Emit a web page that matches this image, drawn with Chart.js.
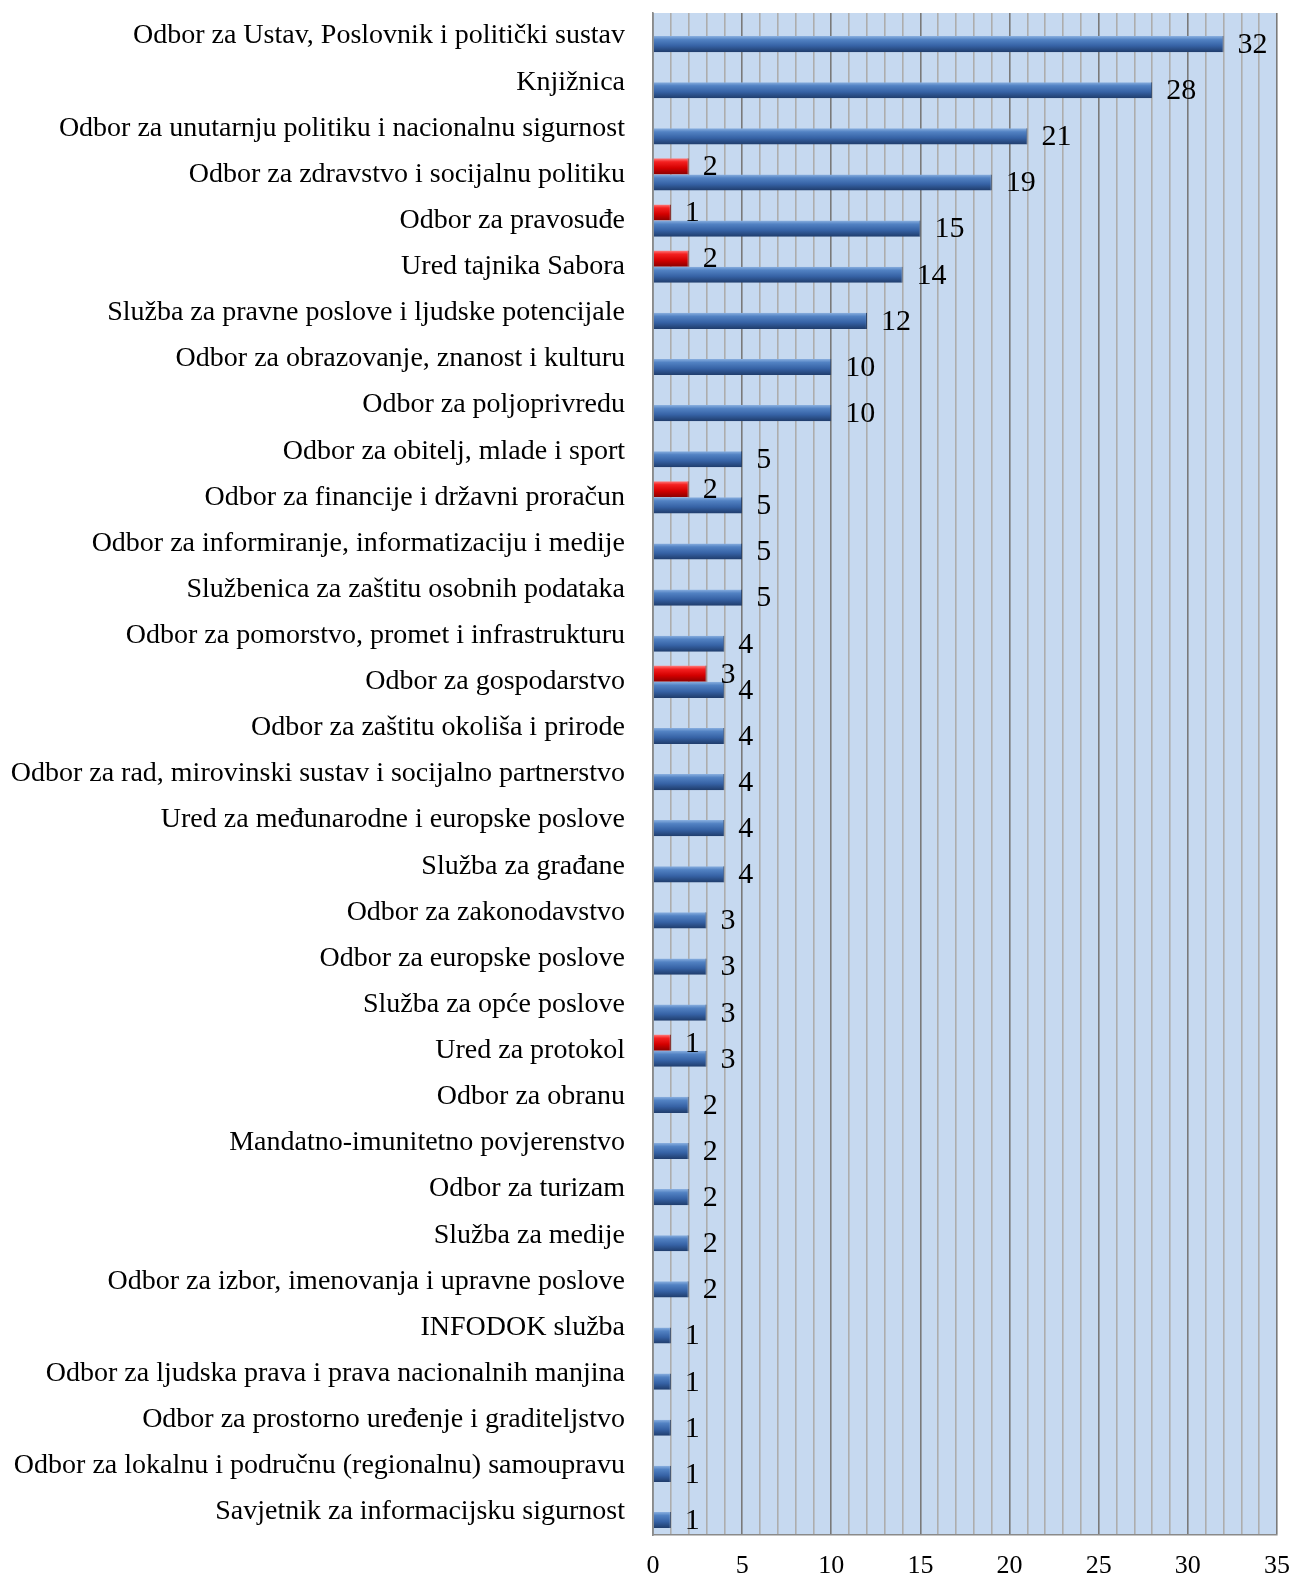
<!DOCTYPE html>
<html>
<head>
<meta charset="utf-8">
<script src="https://cdn.jsdelivr.net/npm/chart.js@4"></script>
<style>
  html, body { margin: 0; padding: 0; background: #ffffff; }
  #wrap { width: 1293px; height: 1580px; }
</style>
</head>
<body>
<div id="wrap"><canvas id="c" width="1293" height="1580"></canvas></div>
<script>
const categories = [
  "Odbor za Ustav, Poslovnik i politički sustav",
  "Knjižnica",
  "Odbor za unutarnju politiku i nacionalnu sigurnost",
  "Odbor za zdravstvo i socijalnu politiku",
  "Odbor za pravosuđe",
  "Ured tajnika Sabora",
  "Služba za pravne poslove i ljudske potencijale",
  "Odbor za obrazovanje, znanost i kulturu",
  "Odbor za poljoprivredu",
  "Odbor za obitelj, mlade i sport",
  "Odbor za financije i državni proračun",
  "Odbor za informiranje, informatizaciju i medije",
  "Službenica za zaštitu osobnih podataka",
  "Odbor za pomorstvo, promet i infrastrukturu",
  "Odbor za gospodarstvo",
  "Odbor za zaštitu okoliša i prirode",
  "Odbor za rad, mirovinski sustav i socijalno partnerstvo",
  "Ured za međunarodne i europske poslove",
  "Služba za građane",
  "Odbor za zakonodavstvo",
  "Odbor za europske poslove",
  "Služba za opće poslove",
  "Ured za protokol",
  "Odbor za obranu",
  "Mandatno-imunitetno povjerenstvo",
  "Odbor za turizam",
  "Služba za medije",
  "Odbor za izbor, imenovanja i upravne poslove",
  "INFODOK služba",
  "Odbor za ljudska prava i prava nacionalnih manjina",
  "Odbor za prostorno uređenje i graditeljstvo",
  "Odbor za lokalnu i područnu (regionalnu) samoupravu",
  "Savjetnik za informacijsku sigurnost"
];

const valuesRed = [
  null, null, null, 2, 1, 2, null, null, null, null, 2, null, null, null, 3, null,
  null, null, null, null, null, null, 1, null, null, null, null, null, null, null,
  null, null, null
];

const valuesBlue = [
  32, 28, 21, 19, 15, 14, 12, 10, 10, 5, 5, 5, 5, 4, 4, 4, 4, 4, 4,
  3, 3, 3, 3, 2, 2, 2, 2, 2, 1, 1, 1, 1, 1
];

const xMin = 0, xMax = 35, xStep = 1, xLabelEvery = 5;

const blueStops = ['#8ab0e0', '#5282c3', '#3662a5', '#1f3c6b'];
const redStops  = ['#ff7f7f', '#f42020', '#d40000', '#8a0000'];

function barGradient(context, stops) {
  const chart = context.chart;
  const y = chart.scales && chart.scales.y;
  if (!chart.chartArea || !y || y.bottom === undefined) return stops[2];
  const catH = (y.bottom - y.top) / categories.length;
  const h = catH * 0.7 / 2;
  const c = y.getPixelForValue(context.dataIndex);
  const top = context.datasetIndex === 0 ? c - h : c;
  if (!isFinite(top)) return stops[2];
  const g = chart.ctx.createLinearGradient(0, top, 0, top + h);
  g.addColorStop(0, stops[0]);
  g.addColorStop(0.22, stops[1]);
  g.addColorStop(0.6, stops[2]);
  g.addColorStop(1, stops[3]);
  return g;
}

const plotBg = {
  id: 'plotBg',
  beforeDraw(chart) {
    const a = chart.chartArea;
    const ctx = chart.ctx;
    ctx.save();
    ctx.fillStyle = '#c6d9f0';
    ctx.fillRect(a.left, a.top, a.right - a.left, a.bottom - a.top);
    ctx.restore();
  }
};

const valueLabels = {
  id: 'valueLabels',
  afterDatasetsDraw(chart) {
    const ctx = chart.ctx;
    ctx.save();
    ctx.font = '30px "Liberation Serif", "Times New Roman", serif';
    ctx.fillStyle = '#000000';
    ctx.textAlign = 'left';
    ctx.textBaseline = 'middle';
    chart.data.datasets.forEach((ds, di) => {
      const meta = chart.getDatasetMeta(di);
      meta.data.forEach((el, i) => {
        const v = ds.data[i];
        if (v === null || v === undefined) return;
        ctx.fillText(String(v), el.x + 14, el.y + 1);
      });
    });
    ctx.restore();
  }
};

new Chart(document.getElementById('c'), {
  type: 'bar',
  data: {
    labels: categories,
    datasets: [
      {
        label: 'red',
        data: valuesRed,
        backgroundColor: (ctx) => barGradient(ctx, redStops),
        borderColor: '#7a0000',
        borderWidth: { top: 0, bottom: 0, left: 0, right: 1 },
        barPercentage: 1.0,
        categoryPercentage: 0.7
      },
      {
        label: 'blue',
        data: valuesBlue,
        backgroundColor: (ctx) => barGradient(ctx, blueStops),
        borderColor: '#1c355c',
        borderWidth: { top: 0, bottom: 0, left: 0, right: 1 },
        barPercentage: 1.0,
        categoryPercentage: 0.7
      }
    ]
  },
  options: {
    indexAxis: 'y',
    responsive: false,
    animation: false,
    layout: { padding: { left: 0, right: 16, top: 13, bottom: 0 } },
    plugins: {
      legend: { display: false },
      tooltip: { enabled: false }
    },
    scales: {
      x: {
        min: xMin,
        max: xMax,
        ticks: {
          stepSize: xStep,
          autoSkip: false,
          maxRotation: 0,
          padding: 16,
          color: '#000000',
          font: { family: '"Liberation Serif", "Times New Roman", serif', size: 26 },
          callback: (v) => (v % xLabelEvery === 0 ? String(v) : '')
        },
        grid: {
          drawTicks: false,
          color: (c) => (c.tick && c.tick.value % xLabelEvery === 0 ? '#7a7a7a' : '#adadad'),
          lineWidth: 1.6
        },
        border: { display: true, color: '#8a8a8a', width: 1.6 },
        afterFit: (s) => { s.height = 45; s.paddingLeft = 0; s.paddingRight = 0; }
      },
      y: {
        ticks: {
          autoSkip: false,
          padding: 28,
          color: '#000000',
          font: { family: '"Liberation Serif", "Times New Roman", serif', size: 28 }
        },
        grid: { display: false, drawTicks: false },
        border: { display: true, color: '#8a8a8a', width: 1.6 },
        afterFit: (s) => { s.width = 653; s.paddingTop = 0; s.paddingBottom = 0; }
      }
    }
  },
  plugins: [plotBg, valueLabels]
});
</script>
</body>
</html>
